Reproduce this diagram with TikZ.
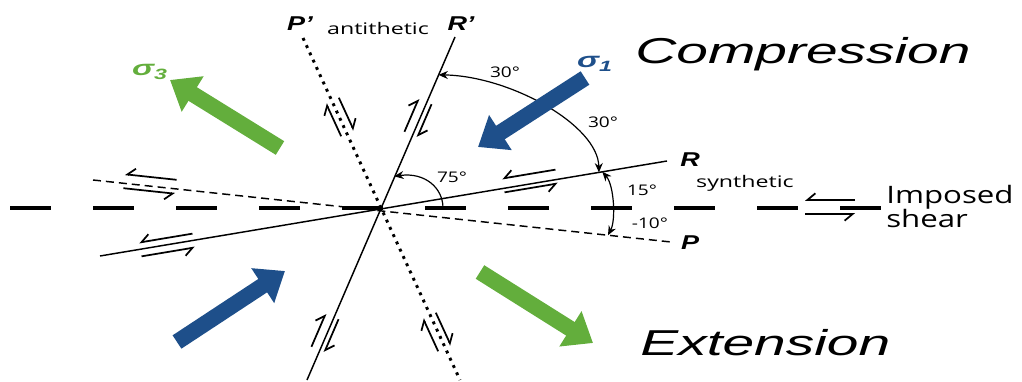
\documentclass[tikz,border=0pt]{standalone}
\usepackage{fontspec}
\setmainfont{Liberation Sans}
\newfontfamily\labfont{Open Sans}
\usepackage{xcolor}
\usetikzlibrary{arrows.meta,calc}
\definecolor{sigblue}{RGB}{30,79,138}
\definecolor{siggreen}{RGB}{99,174,60}

\begin{document}
\begin{tikzpicture}[
    x=0.75pt, y=-0.75pt,
    fault/.style={line width=1.1pt},
    pfault/.style={line width=1.1pt, dash pattern=on 6pt off 3.75pt},
    antifault/.style={line width=2.2pt, dash pattern=on 2.2pt off 3.8pt},
    shear/.style={line width=3pt, dash pattern=on 30.75pt off 31.5pt},
    harp/.style={line width=1.3pt},
    angarc/.style={line width=0.9pt, -{Stealth[length=7pt,width=6pt]}},
    twoway/.style={line width=0.9pt, {Stealth[length=7pt,width=6pt]}-{Stealth[length=7pt,width=6pt]}},
    stress/.style={line width=12pt, -{Triangle[length=20pt,width=30pt]}},
    big/.style={font=\fontsize{27}{30}\selectfont\itshape, xscale=1.58, inner sep=0pt},
    small/.style={font=\labfont\fontsize{12}{14}\selectfont, xscale=1.45, inner sep=0pt},
    deg/.style={font=\labfont\fontsize{11}{12}\selectfont, xscale=1.3, inner sep=0pt},
    plane/.style={font=\bfseries\itshape\fontsize{15}{18}\selectfont, xscale=1.35, inner sep=0pt},
    sig/.style={font=\bfseries\itshape\fontsize{16}{20}\selectfont, xscale=1.55, inner sep=0pt},
]
\useasboundingbox (0,0) rectangle (1022,382);

\coordinate (O) at (380,209);
\coordinate (Rw) at (100,256);
\coordinate (Re) at (667,161);
\coordinate (Pw) at (93,180);
\coordinate (Pe) at (671,242);
\coordinate (Rpn) at (455,37);
\coordinate (Rps) at (307,380);
\coordinate (Ppn) at (303,38);
\coordinate (Pps) at (460,380);
\coordinate (Sw) at (10,208);
\coordinate (Se) at (881,208);

\draw[shear] (Sw) -- (Se);
\draw[pfault] (Pw) -- (Pe);
\draw[fault] (Rw) -- (Re);
\draw[fault] (Rps) -- (Rpn);
\draw[antifault] (Ppn) -- (Pps);

\foreach \px/\py/\ang/\s/\sd/\l in {830/207/0/1/right/25, 530/181/9.5/1/right/27,
    167/245/9.5/1/right/27, 150/184/-6.1/1/right/26, 418/118/66.7/-1/left/18,
    325/333/66.7/-1/left/18, 340/117/114.7/-1/left/18, 437/332/114.7/-1/left/18}
{
  \begin{scope}[shift={(\px,\py)}, rotate=\ang]
    \draw[harp, -{Straight Barb[\sd,length=6pt,width=10pt]}] (\s*\l,-7) -- (-\s*\l,-7);
    \draw[harp, -{Straight Barb[\sd,length=6pt,width=10pt]}] (-\s*\l,7) -- (\s*\l,7);
  \end{scope}
}

\coordinate (a1) at ($(O)!0.78!(Rpn)$);
\coordinate (a2) at ($(Rw)!0.88!(Re)$);
\coordinate (b1) at ($(Rw)!0.886!(Re)$);
\coordinate (b2) at ($(Pw)!0.891!(Pe)$);
\coordinate (c1) at (443,208);
\coordinate (c2) at ($(O)!0.19!(Rpn)$);
\draw[twoway] (a2) .. controls (598,125) and (510,76) .. (a1);
\draw[twoway] (b1) .. controls (614,185) and (616,220) .. (b2);
\draw[angarc] (c1) .. controls (443,188) and (425,172) .. (c2);

\coordinate (s1t) at (585,78);
\coordinate (s1h) at (478,147);
\coordinate (s1bt) at (177,342);
\coordinate (s1bh) at (285,271);
\coordinate (s3t) at (280,148);
\coordinate (s3h) at (170,80);
\coordinate (s3bt) at (480,272);
\coordinate (s3bh) at (593,343);
\draw[stress, sigblue] (s1t) -- (s1h);
\draw[stress, sigblue] (s1bt) -- (s1bh);
\draw[stress, siggreen] (s3t) -- (s3h);
\draw[stress, siggreen] (s3bt) -- (s3bh);

\node[big, anchor=base west] (comp) at (635,63) {Compression};
\node[big, anchor=base west] (ext) at (640,355) {Extension};
\node[plane] (Pplab) at (300,24) {P’};
\node[small] (anti) at (378,28) {antithetic};
\node[plane] (Rplab) at (461,24) {R’};
\node[plane] (Rlab) at (690,160) {R};
\node[plane] (Plab) at (690,243) {P};
\node[small] (syn) at (745,183) {synthetic};
\node[sig, siggreen] (sig3) at (150,72) {σ\textsubscript{3}};
\node[sig, sigblue] (sig1) at (595,64) {σ\textsubscript{1}};
\node[deg] (d30a) at (505,72) {30°};
\node[deg] (d30b) at (603,122) {30°};
\node[deg] (d75) at (452,177) {75°};
\node[deg] (d15) at (642,190) {15°};
\node[deg] (d10) at (650,223) {-10°};
\node[font=\labfont\fontsize{18}{18}\selectfont, xscale=1.3, inner sep=0pt, align=left, anchor=west] (imp) at (886,206) {Imposed\\shear};
\end{tikzpicture}
\end{document}
